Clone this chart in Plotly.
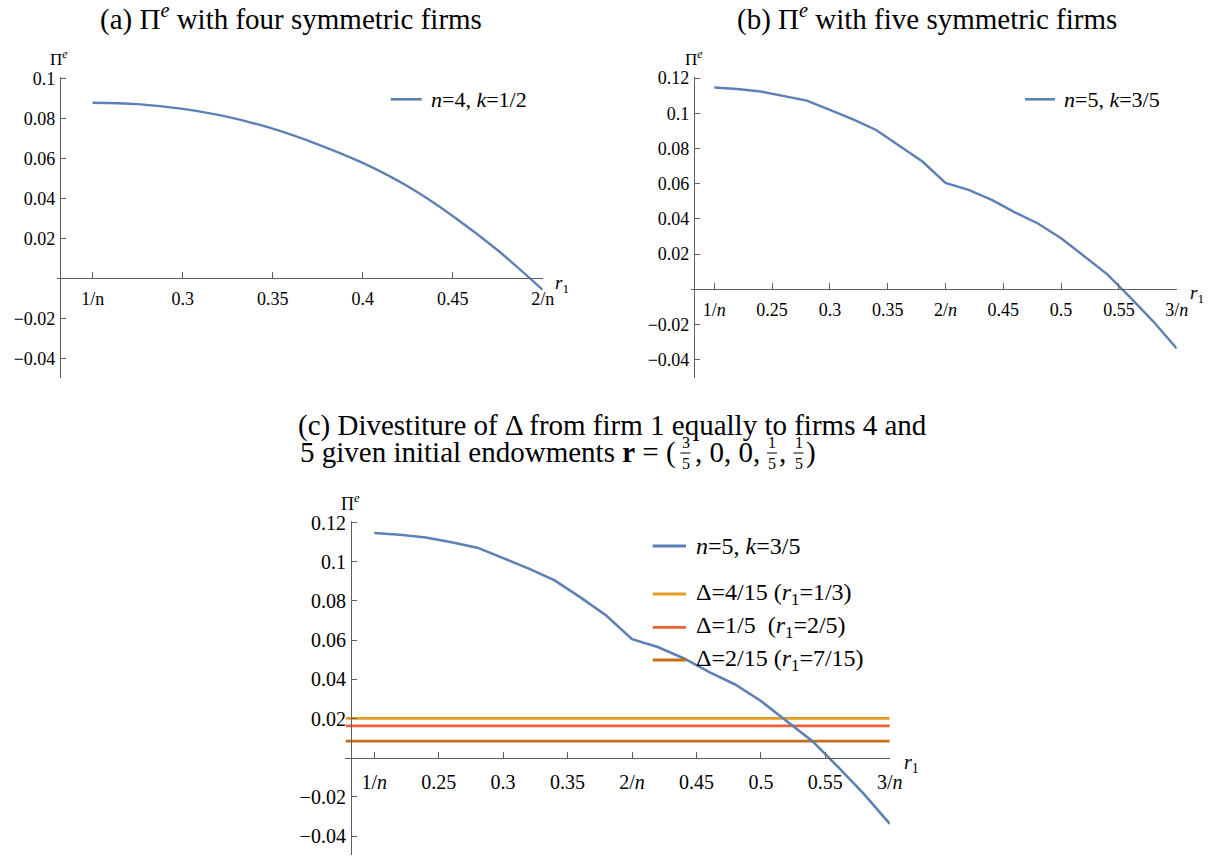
import plotly.graph_objects as go

W, H = 1211, 857


def px(x):
    return x / W


def py(y):
    return 1 - y / H


# ---------------- data ----------------
# panel (a): n=4, k=1/2
r1_a = [0.25, 0.275, 0.3, 0.325, 0.35, 0.375, 0.4, 0.425, 0.45, 0.475, 0.5]
pi_a = [0.0878, 0.0871, 0.0847, 0.0807, 0.0748, 0.0670, 0.0577, 0.0460, 0.0312, 0.0140, -0.0058]

# panels (b) and (c): n=5, k=3/5
r1_b = [0.20, 0.22, 0.24, 0.26, 0.28, 0.30, 0.32, 0.34, 0.36, 0.38, 0.40,
        0.42, 0.44, 0.46, 0.48, 0.50, 0.52, 0.54, 0.56, 0.58, 0.60]
pi_b = [0.1147, 0.1138, 0.1124, 0.1100, 0.1072, 0.1020, 0.0965, 0.0905, 0.0818, 0.0726, 0.0605,
        0.0565, 0.0508, 0.0437, 0.0374, 0.0290, 0.0188, 0.0085, -0.0048, -0.0185, -0.0337]

# panel (c): divestiture levels
delta_levels = [0.0201, 0.0163, 0.0085]
delta_names = ["Δ=4/15 (<i>r</i><sub>1</sub>=1/3)",
               "Δ=1/5\u00a0\u00a0(<i>r</i><sub>1</sub>=2/5)",
               "Δ=2/15 (<i>r</i><sub>1</sub>=7/15)"]
delta_x = [0.178, 0.6]

name_a = "<i>n</i>=4, <i>k</i>=1/2"
name_b = "<i>n</i>=5, <i>k</i>=3/5"

xt_a_vals = [0.25, 0.3, 0.35, 0.4, 0.45, 0.5]
xt_a_text = ["1/n", "0.3", "0.35", "0.4", "0.45", "2/n"]
xt_b_vals = [0.2, 0.25, 0.3, 0.35, 0.4, 0.45, 0.5, 0.55, 0.6]
xt_b_text = ["1/<i>n</i>", "0.25", "0.3", "0.35", "2/<i>n</i>", "0.45", "0.5", "0.55", "3/<i>n</i>"]
yt_a_vals = [0.1, 0.08, 0.06, 0.04, 0.02, -0.02, -0.04]
yt_a_text = ["0.1", "0.08", "0.06", "0.04", "0.02", "−0.02", "−0.04"]
yt_b_vals = [0.12, 0.1, 0.08, 0.06, 0.04, 0.02, -0.02, -0.04]
yt_b_text = ["0.12", "0.1", "0.08", "0.06", "0.04", "0.02", "−0.02", "−0.04"]

# ---------------- style ----------------
BLUE = "#5E81B5"
DELTA_COLORS = ["#E19C24", "#EB6235", "#C56E1A"]
AX = "#5f5f5f"
SERIF = "Liberation Serif"
TITLE_SIZE = 29

fig = go.Figure()

fig.add_trace(go.Scatter(x=r1_a, y=pi_a, mode="lines", name=name_a, showlegend=False,
                         line=dict(color=BLUE, width=2.4, shape="spline", smoothing=1.0),
                         xaxis="x", yaxis="y"))
fig.add_trace(go.Scatter(x=r1_b, y=pi_b, mode="lines", name=name_b, showlegend=False,
                         line=dict(color=BLUE, width=2.4), xaxis="x2", yaxis="y2"))
for lvl, nm, col in zip(delta_levels, delta_names, DELTA_COLORS):
    fig.add_trace(go.Scatter(x=delta_x, y=[lvl, lvl], mode="lines", name=nm, showlegend=False,
                             line=dict(color=col, width=2.6), xaxis="x3", yaxis="y3"))
fig.add_trace(go.Scatter(x=r1_b, y=pi_b, mode="lines", name=name_b, showlegend=False,
                         line=dict(color=BLUE, width=2.6), xaxis="x3", yaxis="y3"))


def xax(domain, rng, pos, vals, text, size, standoff):
    return dict(domain=domain, range=rng, anchor="free", position=pos, automargin=False,
                showline=True, linecolor=AX, linewidth=1.2,
                ticks="inside", ticklen=6, tickwidth=1.2, tickcolor=AX,
                tickvals=vals, ticktext=text, showgrid=False, zeroline=False,
                tickfont=dict(family=SERIF, size=size, color="black"),
                ticklabelstandoff=standoff)


def yax(domain, rng, pos, vals, text, size):
    return dict(domain=domain, range=rng, anchor="free", position=pos, automargin=False,
                showline=True, linecolor=AX, linewidth=1.2,
                ticks="inside", ticklen=5, tickwidth=1.2, tickcolor=AX,
                tickvals=vals, ticktext=text, showgrid=False, zeroline=False,
                tickfont=dict(family=SERIF, size=size, color="black"),
                ticklabelstandoff=1)


layout = dict(
    template="none",
    width=W, height=H, margin=dict(l=0, r=0, t=0, b=0, pad=0), autosize=False,
    font=dict(family=SERIF, color="black"),
    paper_bgcolor="white", plot_bgcolor="rgba(0,0,0,0)", showlegend=False,
    xaxis=xax([px(56.5), px(542.7)], [0.2299, 0.5], py(278.3), xt_a_vals, xt_a_text, 18, 4),
    yaxis=yax([py(378.3), py(76.7)], [-0.05, 0.1008], px(60), yt_a_vals, yt_a_text, 18),
    xaxis2=xax([px(690.5), px(1176.7)], [0.1794, 0.6], py(289.3), xt_b_vals, xt_b_text, 18, 4),
    yaxis2=yax([py(378.3), py(76.7)], [-0.0506, 0.1208], px(694), yt_b_vals, yt_b_text, 18),
    xaxis3=xax([px(345.2), px(889.8)], [0.1775, 0.6], py(757.7), xt_b_vals, xt_b_text, 20, 6),
    yaxis3=yax([py(855), py(521)], [-0.0496, 0.1208], px(351), yt_b_vals, yt_b_text, 20),
)
fig.update_layout(**layout)

ann = []
shapes = []


def text(x, y, t, size, xanchor="center"):
    ann.append(dict(x=px(x), y=py(y), xref="paper", yref="paper", text=t, showarrow=False,
                    xanchor=xanchor, yanchor="middle", borderpad=0,
                    font=dict(family=SERIF, size=size, color="black")))


def key(x0, x1, y, color, width):
    shapes.append(dict(type="line", xref="paper", yref="paper", x0=px(x0), x1=px(x1),
                       y0=py(y), y1=py(y), line=dict(color=color, width=width)))


# titles
text(290.5, 17, "(a) Π<sup><i>e</i></sup> with four symmetric firms", TITLE_SIZE)
text(926.5, 17, "(b) Π<sup><i>e</i></sup> with five symmetric firms", TITLE_SIZE)
text(297, 425, "(c) Divestiture of Δ from firm 1 equally to firms 4 and", TITLE_SIZE, "left")
# second line of (c) with stacked fractions
text(677, 452, "5 given initial endowments <b>r</b> = (", TITLE_SIZE, "right")
frac_x = [685.5, 772, 798.5]
for fx, num in zip(frac_x, ["3", "1", "1"]):
    text(fx, 453, num + "<br>5", 16)
    shapes.append(dict(type="line", xref="paper", yref="paper", x0=px(fx - 5), x1=px(fx + 5),
                       y0=py(453), y1=py(453), line=dict(color="black", width=1)))
text(694, 452, ", 0, 0,", TITLE_SIZE, "left")
text(778, 452, ",", TITLE_SIZE, "left")
text(805, 452, ")", TITLE_SIZE, "left")

# axis labels
text(59, 58, "Π<sup><i>e</i></sup>", 17)
text(694, 58, "Π<sup><i>e</i></sup>", 17)
text(350, 502, "Π<sup><i>e</i></sup>", 18)
text(562, 284, "<i>r</i><sub>1</sub>", 19)
text(1197, 294, "<i>r</i><sub>1</sub>", 19)
text(911, 763, "<i>r</i><sub>1</sub>", 20)

# legends
key(390.7, 421.7, 99.3, BLUE, 2.6)
text(430, 99.3, name_a, 22, "left")
key(1025, 1055, 99.3, BLUE, 2.6)
text(1063, 99.3, name_b, 22, "left")
key(652.7, 686, 546, BLUE, 2.8)
text(695, 546, name_b, 24, "left")
for yy, nm, col in zip([594, 627.3, 660], delta_names, DELTA_COLORS):
    key(652.7, 686, yy, col, 2.8)
    text(695, yy, nm, 24, "left")

fig.update_layout(annotations=ann, shapes=shapes)
fig.write_html("out.html", config={"displayModeBar": False},
               post_script="document.body.style.margin='0px';document.body.style.overflow='hidden';")
